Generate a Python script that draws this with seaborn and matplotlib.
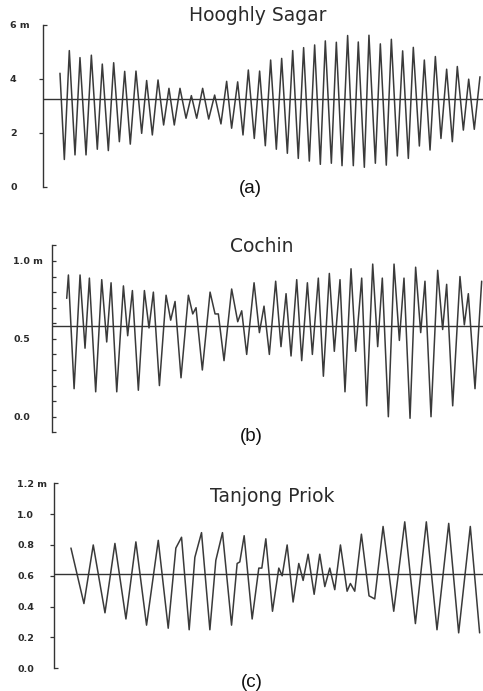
import numpy as np
import pandas as pd
import matplotlib
matplotlib.use("Agg")
import matplotlib.pyplot as plt
import seaborn as sns

# ---------------- data (time in hours, height in metres) ----------------
hooghly_t = [0, 4.9, 10.5, 16.9, 22.5, 29.3, 35.3, 42.0, 47.6, 54.4,
             60.4, 66.8, 72.8, 79.1, 85.5, 91.9, 97.5, 103.9, 110.3, 116.6,
             122.6, 128.6, 135.0, 141.8, 147.8, 153.8, 160.5, 167.3, 174.0, 181.1,
             187.5, 193.1, 199.9, 205.9, 211.9, 218.6, 224.6, 231.0, 237.0, 243.4,
             249.4, 255.8, 261.8, 268.1, 274.1, 280.5, 286.5, 292.9, 298.5, 305.3,
             310.9, 317.3, 323.6, 330.0, 335.6, 342.4, 347.6, 354.8, 360.4, 367.1,
             372.8, 379.5, 385.5, 391.9, 397.5, 404.3, 409.9, 416.3, 422.3, 428.6,
             435.0, 441.4, 447.0, 453.8, 459.8, 466.1, 472.5]
hooghly_h = [4.21, 1.01, 5.05, 1.18, 4.79, 1.18, 4.88, 1.39, 4.55, 1.34,
             4.60, 1.67, 4.28, 1.58, 4.29, 1.98, 3.94, 1.92, 3.96, 2.29,
             3.65, 2.29, 3.65, 2.54, 3.38, 2.54, 3.65, 2.51, 3.40, 2.33,
             3.91, 2.17, 3.89, 1.92, 4.33, 1.79, 4.29, 1.52, 4.70, 1.39,
             4.76, 1.24, 5.05, 1.05, 5.16, 0.95, 5.26, 0.83, 5.41, 0.87,
             5.36, 0.78, 5.61, 0.78, 5.37, 0.72, 5.62, 0.87, 5.30, 0.80,
             5.47, 1.14, 5.04, 1.05, 5.17, 1.51, 4.70, 1.36, 4.83, 1.79,
             4.36, 1.67, 4.46, 2.10, 3.99, 2.13, 4.08]
hooghly_mean = 3.25

cochin_t = [0, 1.9, 8.3, 15.0, 20.6, 25.5, 32.6, 39.4, 45.0, 49.9,
            56.3, 63.8, 68.6, 73.9, 80.6, 87.4, 92.6, 97.5, 104.3, 111.8,
            117.0, 121.9, 128.6, 136.9, 141.8, 145.5, 152.6, 161.3, 166.9, 170.6,
            177.0, 185.6, 192.4, 196.9, 202.5, 210.8, 216.8, 222.0, 228.0, 235.1,
            241.1, 246.8, 252.4, 258.8, 264.4, 270.8, 276.4, 283.1, 288.8, 295.5,
            301.1, 307.5, 313.1, 319.9, 325.1, 331.9, 337.5, 344.3, 349.9, 355.1,
            361.9, 368.3, 374.3, 379.5, 386.3, 392.6, 398.3, 403.1, 409.9, 417.4,
            423.0, 427.5, 434.3, 442.5, 447.4, 451.9, 459.4, 466.9]
cochin_h = [0.76, 0.91, 0.18, 0.91, 0.44, 0.89, 0.16, 0.88, 0.48, 0.86,
            0.16, 0.84, 0.52, 0.81, 0.17, 0.81, 0.57, 0.80, 0.20, 0.78,
            0.62, 0.74, 0.25, 0.78, 0.66, 0.70, 0.30, 0.80, 0.66, 0.66,
            0.36, 0.82, 0.61, 0.68, 0.40, 0.86, 0.54, 0.71, 0.40, 0.87,
            0.45, 0.79, 0.39, 0.88, 0.36, 0.86, 0.40, 0.89, 0.26, 0.92,
            0.42, 0.88, 0.16, 0.95, 0.42, 0.89, 0.07, 0.98, 0.45, 0.89,
            0.00, 0.98, 0.49, 0.89, -0.01, 0.96, 0.54, 0.87, 0.00, 0.94,
            0.56, 0.85, 0.07, 0.90, 0.59, 0.79, 0.18, 0.87]
cochin_mean = 0.58

priok_t = [0, 14.6, 25.1, 38.3, 49.5, 61.9, 73.1, 85.1, 98.3, 109.5,
           118.1, 124.5, 133.1, 139.5, 147.0, 156.4, 163.1, 170.6, 180.8, 187.1,
           190.1, 195.0, 204.0, 211.5, 214.9, 219.4, 226.9, 234.0, 237.8, 243.4,
           250.1, 256.5, 261.4, 267.0, 273.8, 280.1, 285.8, 291.4, 297.0, 303.4,
           310.9, 314.6, 319.5, 327.0, 335.6, 342.0, 351.4, 363.4, 375.8, 387.8,
           400.1, 412.1, 425.3, 436.5, 449.6, 460.1]
priok_h = [0.78, 0.42, 0.80, 0.36, 0.81, 0.32, 0.82, 0.28, 0.83, 0.26,
           0.78, 0.85, 0.25, 0.72, 0.88, 0.25, 0.70, 0.88, 0.28, 0.68,
           0.69, 0.86, 0.32, 0.65, 0.65, 0.84, 0.37, 0.65, 0.60, 0.80,
           0.43, 0.68, 0.57, 0.74, 0.48, 0.74, 0.53, 0.65, 0.51, 0.80,
           0.50, 0.55, 0.50, 0.87, 0.47, 0.45, 0.92, 0.37, 0.95, 0.29,
           0.95, 0.25, 0.94, 0.23, 0.92, 0.23]
priok_mean = 0.61

titles = ["Hooghly Sagar", "Cochin", "Tanjong Priok"]
panel_tags = ["(a)", "(b)", "(c)"]

a_major, a_major_lbl = [2, 4], ["2", "4"]
a_minor, a_minor_lbl = [0, 6], ["0", "6 m"]
b_major, b_major_lbl = [0.0, 0.5, 1.0], ["0.0", "0.5", "1.0 m"]
b_minor = [-0.1, 0.1, 0.2, 0.3, 0.4, 0.6, 0.7, 0.8, 0.9, 1.1]
c_major, c_major_lbl = [0.2, 0.4, 0.6, 0.8, 1.0], ["0.2", "0.4", "0.6", "0.8", "1.0"]
c_minor, c_minor_lbl = [0.0, 1.2], ["0.0", "1.2 m"]

# ---------------- figure ----------------
sns.set_style("white")
plt.rcParams["font.family"] = ["DejaVu Sans"]

W, H = 483, 691
fig = plt.figure(figsize=(W / 100, H / 100), dpi=100)
LINE = "#3a3a3a"
TXT = "#2a2a2a"
PX = 0.72  # points per pixel at dpi 100


def make_axes(left_px, top_px, bottom_px, xlim, ylim):
    ax = fig.add_axes([left_px / W, 1 - bottom_px / H,
                       1 - left_px / W, (bottom_px - top_px) / H])
    ax.set_xlim(*xlim)
    ax.set_ylim(*ylim)
    for s in ("top", "right", "bottom"):
        ax.spines[s].set_visible(False)
    ax.spines["left"].set_color("#333333")
    ax.spines["left"].set_linewidth(1.0)
    ax.set_xticks([])
    ax.patch.set_alpha(0)
    return ax


def draw_series(ax, t, h, mean):
    df = pd.DataFrame({"t": t, "h": h})
    sns.lineplot(data=df, x="t", y="h", ax=ax, color=LINE, linewidth=1.1,
                 estimator=None, legend=False)
    ax.axhline(mean, color="#333333", linewidth=1.0)
    ax.set_xlabel("")
    ax.set_ylabel("")


def style_ticks(ax, spine_px, label_px, major, major_lbl, major_dir,
                minor, minor_lbl, minor_dir):
    L = 4
    dist = spine_px - label_px
    ax.set_yticks(major)
    ax.set_yticklabels(major_lbl, ha="left", fontweight="bold")
    ax.set_yticks(minor, minor=True)
    ax.set_yticklabels(minor_lbl, minor=True, ha="left", fontweight="bold")
    for which, d in (("major", major_dir), ("minor", minor_dir)):
        pad = dist - (L if d == "out" else 0)
        ax.tick_params(axis="y", which=which, direction=d, length=L * PX,
                       width=0.9, pad=pad * PX, labelsize=6.8,
                       labelcolor=TXT, color="#333333", left=True)


# Panel (a)
ax_a = make_axes(43, 25, 186.7, (-19.1, 475.9), (0, 6))
draw_series(ax_a, hooghly_t, hooghly_h, hooghly_mean)
style_ticks(ax_a, 43, 10, a_major, a_major_lbl, "out", a_minor, a_minor_lbl, "in")

# Panel (b)
ax_b = make_axes(51.7, 245.4, 432.3, (-16.9, 468.4), (-0.1, 1.1))
draw_series(ax_b, cochin_t, cochin_h, cochin_mean)
style_ticks(ax_b, 51.7, 13, b_major, b_major_lbl, "in",
            b_minor, [""] * len(b_minor), "in")

# Panel (c)
ax_c = make_axes(54.3, 483.3, 668.3, (-18.75, 463.9), (0, 1.2))
draw_series(ax_c, priok_t, priok_h, priok_mean)
style_ticks(ax_c, 54.3, 17, c_major, c_major_lbl, "out", c_minor, c_minor_lbl, "in")

# Titles and panel tags
title_pos = [(258, 21), (262, 252), (272, 502)]
tag_pos = [(250, 193), (251, 441), (252, 687)]
for txt, (x, y) in zip(titles, title_pos):
    fig.text(x / W, 1 - y / H, txt, ha="center", va="baseline",
             fontsize=13.5, color=TXT)
for txt, (x, y) in zip(panel_tags, tag_pos):
    fig.text(x / W, 1 - y / H, txt, ha="center", va="baseline",
             fontsize=13.5, color="#111111", family=["Liberation Sans", "DejaVu Sans"])

fig.savefig("out.png", dpi=100, facecolor="white")
